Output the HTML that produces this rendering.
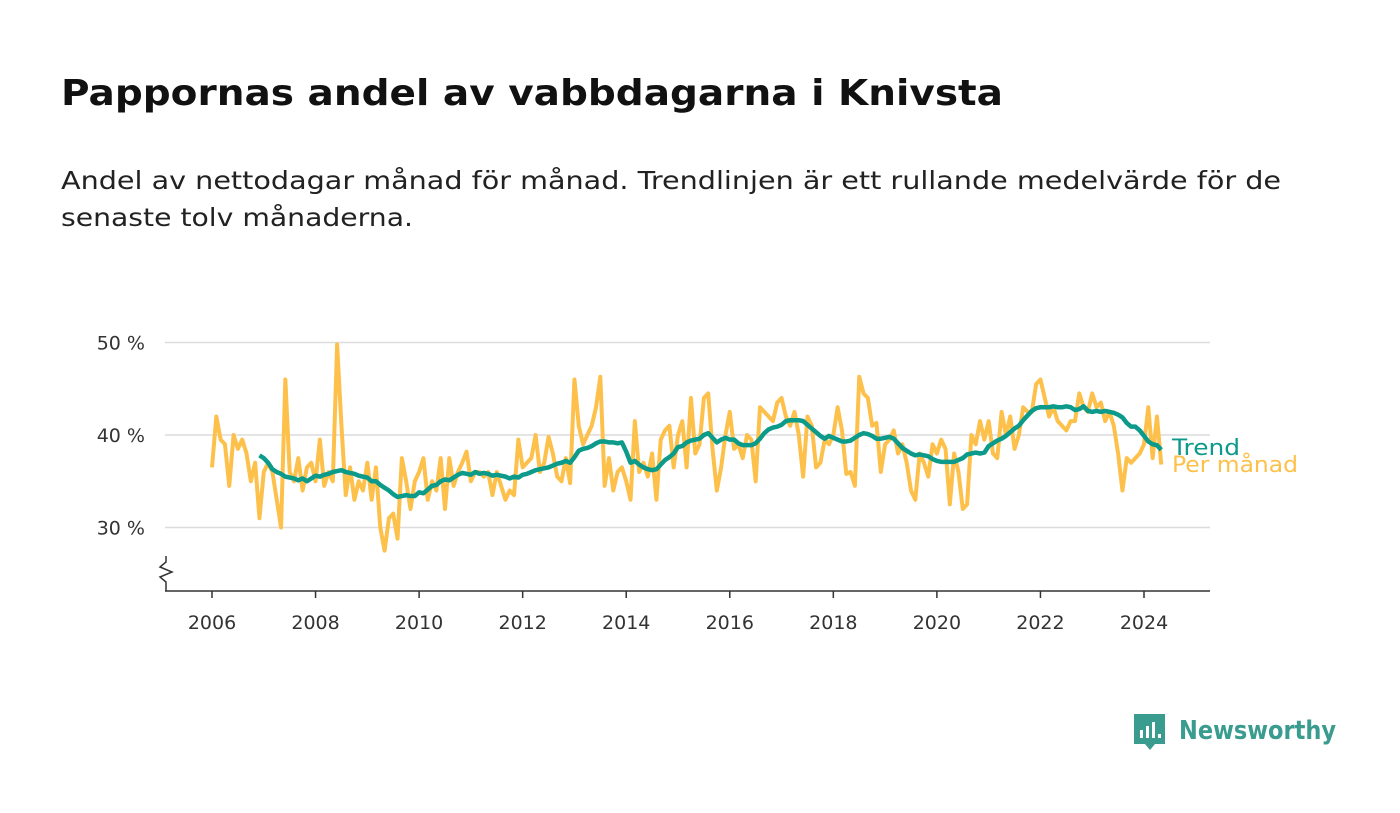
<!DOCTYPE html>
<html><head><meta charset="utf-8"><style>
html,body{margin:0;padding:0;background:#fff;}
svg{display:block;font-family:"DejaVu Sans","Liberation Sans",sans-serif;}
</style></head><body>
<svg id="chart" width="1400" height="813" viewBox="0 0 1400 813">
<text x="61" y="105" font-size="36" font-weight="bold" fill="#111" textLength="942" lengthAdjust="spacingAndGlyphs">Pappornas andel av vabbdagarna i Knivsta</text>
<text x="61" y="189" font-size="25" fill="#222" textLength="1220" lengthAdjust="spacingAndGlyphs">Andel av nettodagar månad för månad. Trendlinjen är ett rullande medelvärde för de</text>
<text x="61" y="226" font-size="25" fill="#222" textLength="352" lengthAdjust="spacingAndGlyphs">senaste tolv månaderna.</text>
<g id="grid"></g>
<g id="axes"></g>
<g id="series"></g>
<g>
<path d="M1134 714 h31 v30 h-10 l-5 6 l-5 -6 h-11 z" fill="#3a9b8f"/>
<rect x="1140" y="730" width="3" height="8" fill="#fff"/><rect x="1146" y="726" width="3" height="12" fill="#fff"/><rect x="1152" y="722" width="3" height="16" fill="#fff"/><rect x="1158" y="734" width="3" height="4" fill="#fff"/>
<text x="1179" y="739" font-size="26" font-weight="bold" fill="#3a9b8f" textLength="157" lengthAdjust="spacingAndGlyphs">Newsworthy</text>
</g>
</svg>
<script>
const monthly = [
36.5,42,39.5,39,34.5,40,38.5,39.5,38,35,37,31,
36,37,36,33,30,46,36,35,37.5,34,36.5,37,
35,39.5,34.5,36,35,49.8,41,33.5,36.5,33,35,34,
37,33,36.5,30,27.5,31,31.5,28.8,37.5,35,32,35,
36,37.5,33,35,34,37.5,32,37.5,34.5,36,37,38.2,
35,36,36,35.5,36,33.5,36,34.5,33,34,33.5,39.5,
36.5,37,37.5,40,36,37,39.8,38,35.5,35,37.5,34.8,
46,41,39,40,41,43,46.3,34.5,37.5,34,36,36.5,
35,33,41.5,36,37,35.5,38,33,39.5,40.5,41,36.5,
40,41.5,36.5,44,38,39,44,44.5,38.5,34,36.5,40,
42.5,38.5,39,37.5,40,39.5,35,43,42.5,42,41.5,43.5,
44,42,41,42.5,40,35.5,42,41,36.5,37,39.5,39,
40,43,40.5,35.8,36,34.5,46.3,44.5,44,41,41.3,36,
39,39.5,40.5,38,39,37,34,33,38,37,35.5,39,
38,39.5,38.5,32.5,38,36,32,32.5,40,39,41.5,39.5,
41.5,38,37.5,42.5,40,42,38.5,40,43,42.5,42.5,45.5,
46,44,42,43,41.5,41,40.5,41.5,41.5,44.5,43,42.5,
44.5,43,43.5,41.5,42.5,41,38,34,37.5,37,37.5,38,
39,43,37.5,42,36.8];
const trendStart = 11;
const trend = [37.8,
37.5,37,36.3,36,35.8,35.5,35.4,35.3,35.1,35.3,35,35.3,
35.6,35.5,35.7,35.8,36,36.1,36.2,36,35.9,35.8,35.6,35.5,
35.4,35,35,34.6,34.3,34,33.6,33.3,33.4,33.5,33.4,33.4,
33.8,33.7,34.1,34.5,34.6,35,35.2,35.1,35.4,35.7,35.9,35.8,
35.7,36,35.8,35.9,35.8,35.6,35.7,35.6,35.5,35.3,35.5,35.4,
35.7,35.8,36,36.2,36.3,36.4,36.5,36.7,36.9,37,37.2,37,
37.6,38.3,38.5,38.6,38.8,39.1,39.3,39.3,39.2,39.2,39.1,39.2,
38.2,37,37.2,36.8,36.5,36.3,36.2,36.3,36.8,37.3,37.6,38,
38.7,38.8,39.2,39.4,39.5,39.6,40,40.2,39.7,39.2,39.5,39.7,
39.5,39.5,39.1,38.9,38.9,38.9,39.1,39.6,40.2,40.6,40.8,40.9,
41.1,41.5,41.6,41.6,41.6,41.5,41.1,40.7,40.3,39.9,39.6,39.9,
39.7,39.5,39.3,39.3,39.4,39.7,40,40.2,40.1,39.9,39.6,39.6,
39.7,39.8,39.6,39.1,38.6,38.3,38,37.8,37.9,37.8,37.7,37.4,
37.2,37.1,37.1,37.1,37.1,37.3,37.5,37.9,38,38.1,38,38.1,
38.8,39.1,39.4,39.6,39.9,40.3,40.7,41,41.6,42.1,42.6,42.9,
43,43,43,43.1,43,43,43.1,43,42.7,42.8,43.1,42.6,
42.5,42.6,42.5,42.6,42.5,42.4,42.2,41.9,41.3,40.9,40.9,40.5,
39.9,39.3,39,38.9,38.4];
const yTicks = [30,40,50];
const yTickLabels = ["30 %","40 %","50 %"];
const xTicks = [2006,2008,2010,2012,2014,2016,2018,2020,2022,2024];
const startYear = 2006;

const NS="http://www.w3.org/2000/svg";
const x0=212, pxPerYear=(1144-212)/18;
function xScale(yearFrac){return x0+(yearFrac-startYear)*pxPerYear;}
function xMonth(i){return xScale(startYear+i/12);}
function yScale(v){return 435-(v-40)*9.25;}
function mk(tag,attrs,parent){const e=document.createElementNS(NS,tag);for(const k in attrs)e.setAttribute(k,attrs[k]);parent.appendChild(e);return e;}
const grid=document.getElementById('grid'),axes=document.getElementById('axes'),series=document.getElementById('series');
yTicks.forEach((t,i)=>{
  const l=mk('line',{x1:165,x2:1210,y1:yScale(t),y2:yScale(t),stroke:'#dcdcdc','stroke-width':1.5},grid);
  
  
  const tx=mk('text',{x:145,y:yScale(t)+7,'font-size':19,fill:'#333','text-anchor':'end'},axes);
  tx.textContent=yTickLabels[i];
  
  
});
const ax=mk('line',{x1:165,x2:1210,y1:591,y2:591,stroke:'#333','stroke-width':1.5},axes);


const zz=mk('path',{d:'M166 556 v6 l-6 5 l12 5 l-12 5 l6 5 v9',fill:'none',stroke:'#333','stroke-width':1.5},axes);


xTicks.forEach(t=>{
  const x=xScale(t);
  const tk=mk('line',{x1:x,x2:x,y1:591,y2:598,stroke:'#333','stroke-width':1.5},axes);
  
  
  const tx=mk('text',{x:x,y:629,'font-size':19,fill:'#333','text-anchor':'middle'},axes);
  tx.textContent=t;
  
  
});
const mp=mk('polyline',{points:monthly.map((v,i)=>xMonth(i)+','+yScale(v)).join(' '),fill:'none',stroke:'#fdc04b','stroke-width':4,'stroke-linejoin':'round'},series);


const tp=mk('polyline',{points:trend.map((v,i)=>xMonth(i+trendStart)+','+yScale(v)).join(' '),fill:'none',stroke:'#0c9a8a','stroke-width':4.5,'stroke-linejoin':'round'},series);


const lt=mk('text',{x:1172,y:455,'font-size':22,fill:'#0c9a8a',textLength:68,lengthAdjust:'spacingAndGlyphs'},series);
lt.textContent='Trend';


const lm=mk('text',{x:1172,y:472,'font-size':22,fill:'#fdc04b',textLength:126,lengthAdjust:'spacingAndGlyphs'},series);
lm.textContent='Per månad';


</script>
</body></html>
